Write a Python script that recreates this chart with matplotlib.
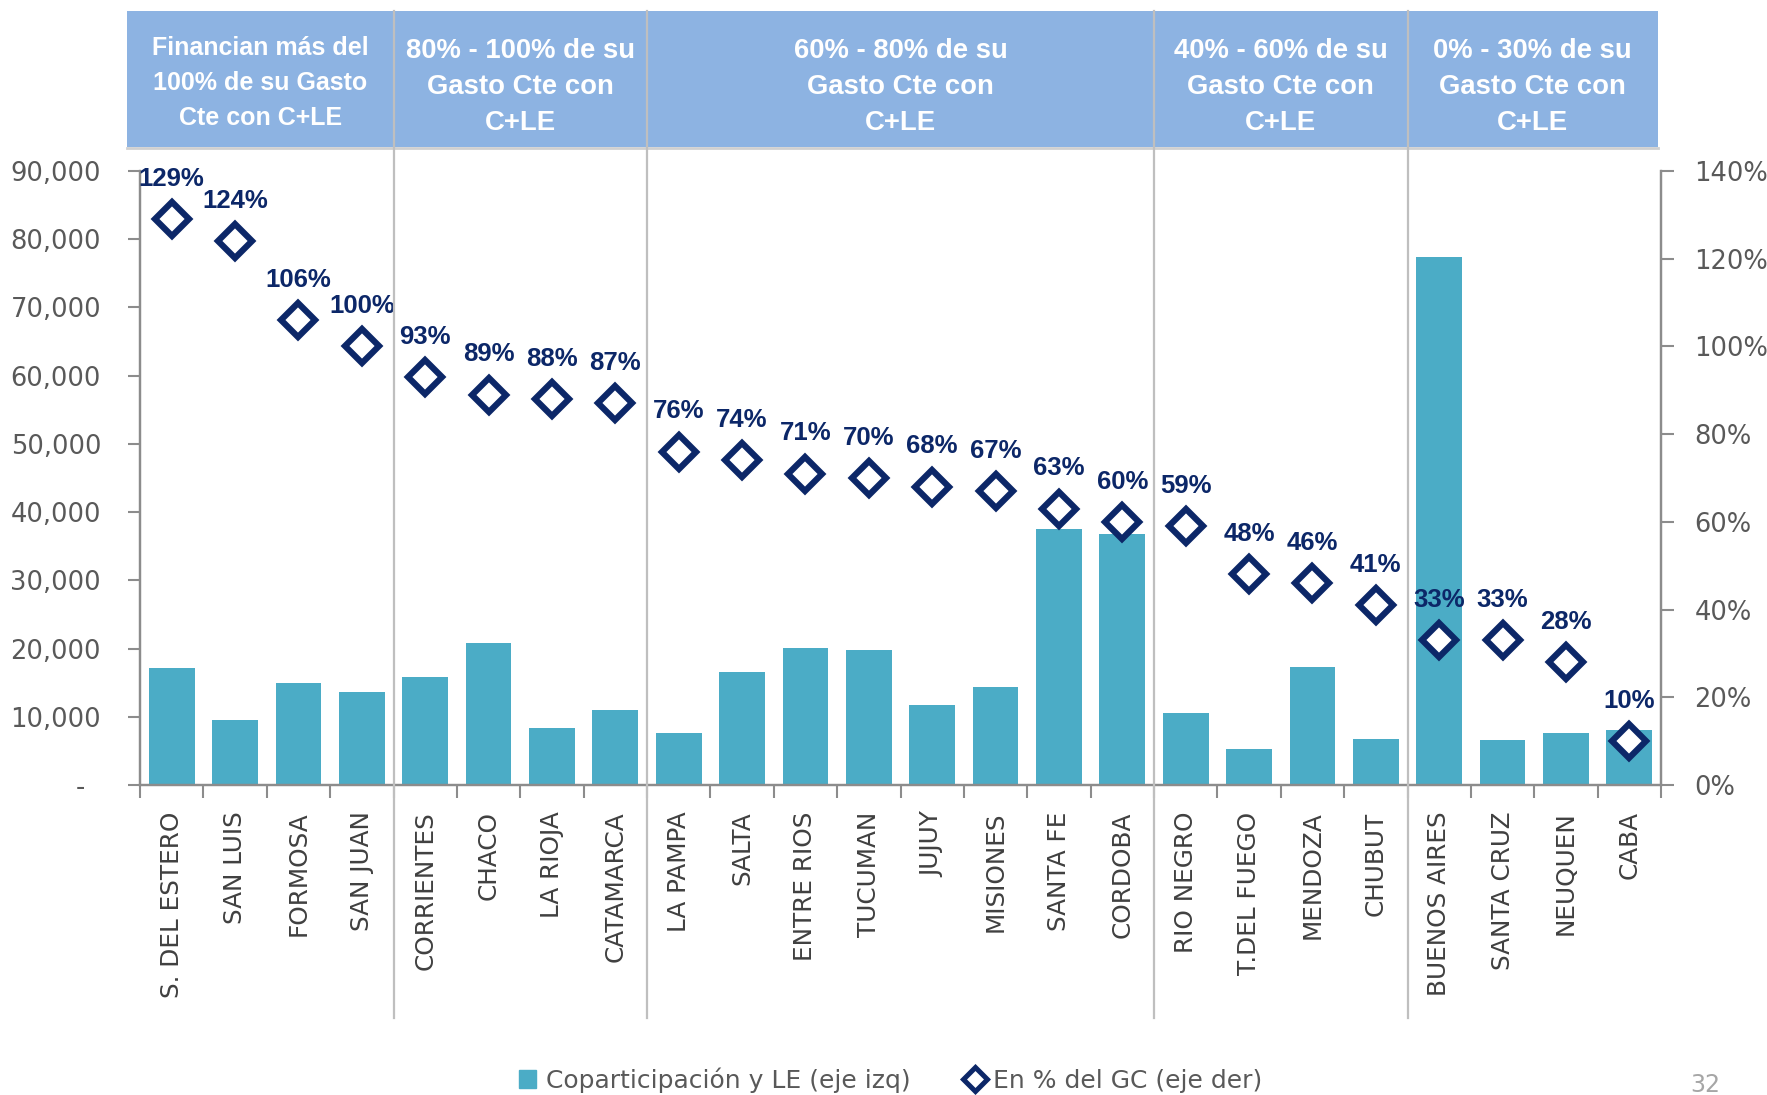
import numpy as np
import matplotlib
matplotlib.use("Agg")
import matplotlib.pyplot as plt
from matplotlib import transforms
from matplotlib.lines import Line2D
from matplotlib.patches import Patch
from matplotlib.ticker import FuncFormatter, MultipleLocator

# ── data ──
provincias = ["S. DEL ESTERO", "SAN LUIS", "FORMOSA", "SAN JUAN",
              "CORRIENTES", "CHACO", "LA RIOJA", "CATAMARCA",
              "LA PAMPA", "SALTA", "ENTRE RIOS", "TUCUMAN", "JUJUY",
              "MISIONES", "SANTA FE", "CORDOBA",
              "RIO NEGRO", "T.DEL FUEGO", "MENDOZA", "CHUBUT",
              "BUENOS AIRES", "SANTA CRUZ", "NEUQUEN", "CABA"]
copart = [17200, 9500, 15000, 13700,
          15850, 20800, 8400, 11050,
          7600, 16500, 20150, 19800, 11700,
          14350, 37500, 36800,
          10550, 5300, 17300, 6750,
          77450, 6600, 7600, 8100]
pct_gc = [129, 124, 106, 100,
          93, 89, 88, 87,
          76, 74, 71, 70, 68, 67, 63, 60,
          59, 48, 46, 41,
          33, 33, 28, 10]
grupo_n = [4, 4, 8, 4, 4]
grupo_txt = ["Financian más del\n100% de su Gasto\nCte con C+LE",
             "80% - 100% de su\nGasto Cte con\nC+LE",
             "60% - 80% de su\nGasto Cte con\nC+LE",
             "40% - 60% de su\nGasto Cte con\nC+LE",
             "0% - 30% de su\nGasto Cte con\nC+LE"]

BAR = "#4BACC6"
NAVY = "#0C2768"
GRIS = "#595959"
EJE = "#8C8C8C"
W, H = 1767, 1095

plt.rcParams["font.family"] = "DejaVu Sans"
fig = plt.figure(figsize=(W / 100, H / 100), dpi=100)
ax = fig.add_axes([140 / W, 1 - 785 / H, (1661 - 140) / W, (785 - 171) / H])
ax2 = ax.twinx()

x = np.arange(len(provincias))
ax.bar(x, copart, width=0.72, color=BAR, zorder=2)
ax.set_xlim(-0.5, len(provincias) - 0.5)
ax.set_ylim(0, 90000)
ax.yaxis.set_major_locator(MultipleLocator(10000))
ax.yaxis.set_major_formatter(FuncFormatter(
    lambda v, _: "-  " if v == 0 else f"{int(v):,}"))
ax.set_xticks(x)
ax.set_xticklabels(provincias, rotation=90, fontsize=17.8, color="#404040")
ax.set_xticks(np.arange(-0.5, len(provincias)), minor=True)
ax.tick_params(axis="x", which="major", length=0, pad=19)
ax.tick_params(axis="x", which="minor", length=9, width=1.5, color=EJE)
ax.tick_params(axis="y", length=9, width=1.5, color=EJE, labelsize=18.5,
               labelcolor=GRIS, pad=19)

ax2.plot(x, pct_gc, ls="none", marker="D", ms=17, mfc="white", mec=NAVY,
         mew=4.5, zorder=3)
ax2.set_ylim(0, 140)
ax2.yaxis.set_major_locator(MultipleLocator(20))
ax2.yaxis.set_major_formatter(FuncFormatter(lambda v, _: f"{int(v)}%"))
ax2.tick_params(axis="y", length=9, width=1.5, color=EJE, labelsize=18.5,
                labelcolor=GRIS, pad=15)
for xi, p in zip(x, pct_gc):
    ax2.annotate(f"{p}%", (xi, p), xytext=(0, 29), textcoords="offset points",
                 ha="center", va="center", fontsize=18.5, fontweight="bold",
                 color=NAVY, family="Liberation Sans")

for a in (ax, ax2):
    a.spines["top"].set_visible(False)
    for s in ("left", "right", "bottom"):
        a.spines[s].set_color(EJE)
        a.spines[s].set_linewidth(1.6)

# ── header band with the group titles ──
hx = fig.add_axes([127 / W, 1 - 147 / H, (1658 - 127) / W, (147 - 11) / H])
hx.set_xlim(-0.705, 23.453)
hx.set_ylim(0, 1)
hx.set_facecolor("#8DB3E2")
for s in hx.spines.values():
    s.set_visible(False)
hx.set_xticks([]); hx.set_yticks([])

bordes = np.concatenate([[-0.705], np.cumsum(grupo_n) - 0.5])
bordes[-1] = 23.453
for i, txt in enumerate(grupo_txt):
    xc = (bordes[i] + bordes[i + 1]) / 2
    if i == 0:
        yc, ls, fs = 0.47, 1.6, 18
    else:
        yc, ls, fs = 0.44, 1.5, 19.8
    hx.text(xc, yc, txt, ha="center", va="center", color="white",
            fontsize=fs, fontweight="bold", family="Liberation Sans",
            linespacing=ls)

# group dividers from header top down past the category labels
tr = transforms.blended_transform_factory(ax.transData, fig.transFigure)
for b in np.cumsum(grupo_n)[:-1] - 0.5:
    fig.add_artist(Line2D([b, b], [1 - 1018 / H, 1 - 11 / H], transform=tr,
                          color="#BFBFBF", lw=1.6, zorder=5))
fig.add_artist(Line2D([127 / W, 1658 / W], [1 - 148 / H, 1 - 148 / H],
                      color="#D0D0D0", lw=2))

# ── legend ──
handles = [Patch(color=BAR, label="Coparticipación y LE (eje izq)"),
           Line2D([], [], ls="none", marker="D", ms=12, mfc="white", mec=NAVY,
                  mew=3.6, label="En % del GC (eje der)")]
leg = fig.legend(handles=handles, loc="center", bbox_to_anchor=(0.504, 0.0137),
                 ncol=2, frameon=False, fontsize=18, handlelength=0.7,
                 handleheight=0.7, handletextpad=0.4, columnspacing=2.2)
for t in leg.get_texts():
    t.set_color(GRIS)

fig.text(1705 / W, 1 - 1085 / H, "32", ha="center", va="center",
         fontsize=17, color="#A6A6A6")

fig.savefig("out.png", dpi=100)
